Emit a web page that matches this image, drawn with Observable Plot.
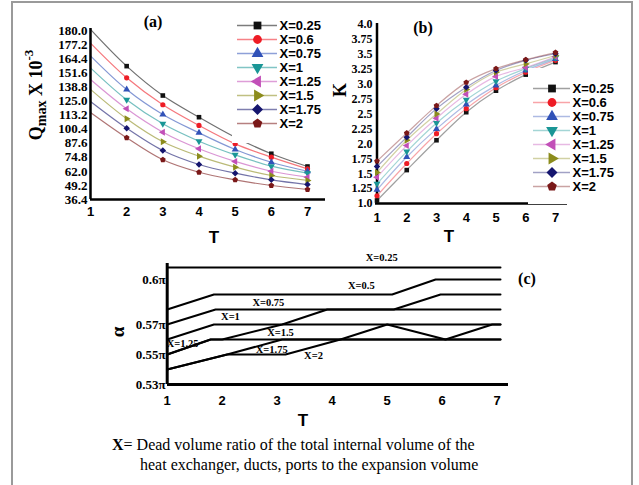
<!DOCTYPE html>
<html><head><meta charset="utf-8">
<script src="https://cdn.jsdelivr.net/npm/d3@7"></script>
<script src="https://cdn.jsdelivr.net/npm/@observablehq/plot@0.6"></script>
<style>
html,body{margin:0;padding:0;background:#fff;}
#root{position:relative;width:639px;height:485px;overflow:hidden;background:#fff;}
.pane{position:absolute;}
.border{position:absolute;left:11px;top:1px;width:618px;height:520px;border:2px solid #9a9a9a;border-bottom:none;}
.lab{position:absolute;white-space:nowrap;line-height:1;transform:translate(-50%,-50%);}
.rot{transform:translate(-50%,-50%) rotate(-90deg);}
.serifb{font-family:"Liberation Serif","Times New Roman",serif;font-weight:bold;}
.sansb{font-family:"Liberation Sans",Arial,sans-serif;font-weight:bold;}
.cap{position:absolute;white-space:nowrap;font-family:"Liberation Serif","Times New Roman",serif;font-size:16px;line-height:18px;color:#000;}
</style></head>
<body><div id="root">
<div class="border"></div>
<div id="pa" class="pane" style="left:0;top:0;width:330px;height:240px;"></div>
<div id="pb" class="pane" style="left:330px;top:0;width:309px;height:240px;"></div>
<div id="pc" class="pane" style="left:100px;top:245px;width:430px;height:180px;"></div>
<div id="la" class="pane" style="left:232px;top:5px;width:95px;height:138px;"></div>
<div id="lb" class="pane" style="left:528px;top:68px;width:100px;height:136px;"></div>

<div class="lab serifb" style="left:153px;top:22px;font-size:16px;">(a)</div>
<div class="lab serifb" style="left:423px;top:28px;font-size:16px;">(b)</div>
<div class="lab serifb" style="left:527px;top:279px;font-size:16px;">(c)</div>
<div class="lab sansb" style="left:214px;top:237px;font-size:17px;">T</div>
<div class="lab sansb" style="left:449px;top:236px;font-size:17px;">T</div>
<div class="lab sansb" style="left:303px;top:420px;font-size:17px;">T</div>
<div class="lab serifb rot" style="left:35px;top:95px;font-size:18px;">Q<sub style="font-size:14px;vertical-align:-4px;">max</sub> X 10<sup style="font-size:13px;vertical-align:9px;">-3</sup></div>
<div class="lab serifb rot" style="left:340px;top:90px;font-size:18px;">K</div>
<div class="lab serifb rot" style="left:117px;top:332px;font-size:19px;">α</div>
<div class="cap" style="left:112px;top:436px;"><b>X</b>= Dead volume ratio of the total internal volume of the</div>
<div class="cap" style="left:140px;top:456px;">heat exchanger, ducts, ports to the expansion volume</div>
</div>
<script>
// ---------------- DATA ----------------
const Tvals = [1, 2, 3, 4, 5, 6, 7];
const seriesAB = ["X=0.25", "X=0.6", "X=0.75", "X=1", "X=1.25", "X=1.5", "X=1.75", "X=2"];

// Panel (a): Qmax x 10^-3 per series (rows follow seriesAB), columns follow Tvals
const qmaxValues = [
  [191.0, 157.6, 130.9, 111.2, 93.0, 78.0, 66.4],
  [178.5, 147.0, 122.5, 103.7, 87.0, 74.9, 64.3],
  [167.0, 136.4, 113.7, 97.0, 81.9, 70.3, 62.1],
  [156.0, 127.0, 105.2, 89.4, 77.0, 66.7, 60.3],
  [145.5, 118.8, 97.6, 82.5, 71.0, 62.1, 56.7],
  [136.5, 109.8, 88.9, 75.8, 65.8, 58.2, 53.7],
  [125.5, 101.2, 80.9, 68.2, 60.3, 54.3, 50.0],
  [115.5, 92.5, 72.5, 61.2, 54.3, 49.1, 45.5]
];
const qTickVals = [36.4, 49.2, 62.0, 74.8, 87.6, 100.4, 113.2, 126.0, 138.8, 151.6, 164.4, 177.2, 190.0];
const qTickLabels = ["36.4", "49.2", "62.0", "74.8", "87.6", "100.4", "113.2", "125.0", "138.8", "151.6", "164.4", "177.2", "180.0"];

// Panel (b): K per series
const kValues = [
  [1.05, 1.56, 2.06, 2.53, 2.89, 3.16, 3.37],
  [1.13, 1.67, 2.17, 2.59, 2.94, 3.20, 3.40],
  [1.23, 1.78, 2.25, 2.66, 2.98, 3.23, 3.42],
  [1.33, 1.87, 2.35, 2.74, 3.05, 3.26, 3.44],
  [1.44, 1.97, 2.43, 2.83, 3.13, 3.28, 3.46],
  [1.52, 2.06, 2.50, 2.91, 3.20, 3.34, 3.48],
  [1.62, 2.11, 2.59, 2.95, 3.23, 3.40, 3.51],
  [1.71, 2.18, 2.64, 3.03, 3.26, 3.41, 3.53]
];
const kTickVals = [1, 1.25, 1.5, 1.75, 2, 2.25, 2.5, 2.75, 3, 3.25, 3.5, 3.75, 4];
const kTickLabels = ["1.0", "1.25", "1.5", "1.75", "2.0", "2.25", "2.5", "2.75", "3.0", "3.25", "3.5", "3.75", "4.0"];

// Panel (c): alpha (in units of pi) as [T, alpha] vertices per series
const seriesC = ["X=0.25", "X=0.5", "X=0.75", "X=1", "X=1.25", "X=1.5", "X=1.75", "X=2"];
const alphaPaths = [
  [[1, 0.608], [7.06, 0.608]],
  [[1, 0.58], [1.85, 0.59], [5.09, 0.59], [5.88, 0.60], [7.06, 0.60]],
  [[1, 0.57], [1.88, 0.58], [5.12, 0.58], [5.97, 0.59], [7.06, 0.59]],
  [[1, 0.56], [1.85, 0.57], [7.06, 0.57]],
  [[1, 0.55], [1.79, 0.56], [7.06, 0.56]],
  [[1, 0.55], [1.79, 0.56], [2.0, 0.56], [3.09, 0.57], [3.91, 0.58], [7.06, 0.58]],
  [[1, 0.54], [2.09, 0.55], [3.09, 0.56], [7.06, 0.56]],
  [[1, 0.54], [2.09, 0.55], [3.15, 0.55], [4.15, 0.56], [5.0, 0.57], [6.06, 0.56], [6.91, 0.57], [7.06, 0.57]]
];
const labelAnchorsC = [[4.9, 0.6147], [4.53, 0.596], [2.84, 0.5847], [2.15, 0.5753], [1.28, 0.5573], [3.06, 0.5647], [2.9, 0.5533], [3.66, 0.5493]];
const alphaTickVals = [0.53, 0.55, 0.57, 0.60];
const alphaTickLabels = ["0.53π", "0.55π", "0.57π", "0.6π"];

// ---------------- STYLE ----------------
const colorsX = ["#111111", "#ee1c25", "#3152b8", "#1a9696", "#c24fb8", "#8c8c1c", "#15156e", "#7a1818"];
const SERIF = "Liberation Serif, Times New Roman, serif";
const SANS = "Liberation Sans, Arial, sans-serif";
const intFmt = d => String(d);
function sym(n, rot, k) {
  return {draw(ctx, size) {
    const R = Math.sqrt(size / Math.PI) * k;
    for (let i = 0; i < n; i++) {
      const a = rot + i * 2 * Math.PI / n;
      const x = R * Math.cos(a), y = R * Math.sin(a);
      if (i === 0) ctx.moveTo(x, y); else ctx.lineTo(x, y);
    }
    ctx.closePath();
  }};
}
const symbolsAB = [
  sym(4, Math.PI / 4, 1.25), "circle", sym(3, -Math.PI / 2, 1.55), sym(3, Math.PI / 2, 1.55),
  sym(3, Math.PI, 1.55), sym(3, 0, 1.55), sym(4, -Math.PI / 2, 1.25), sym(5, -Math.PI / 2, 1.15)
];
const qTickMap = new Map(qTickVals.map((v, i) => [v, qTickLabels[i]]));
const kTickMap = new Map(kTickVals.map((v, i) => [v, kTickLabels[i]]));
const aTickMap = new Map(alphaTickVals.map((v, i) => [v, alphaTickLabels[i]]));

function rowsOf(values) {
  return seriesAB.flatMap((s, i) => Tvals.map((t, j) => ({s, i, T: t, v: values[i][j]})));
}

// ---------------- PANEL A ----------------
const rowsA = rowsOf(qmaxValues);
const plotA = Plot.plot({
  width: 330, height: 240, marginLeft: 90, marginRight: 5, marginTop: 28, marginBottom: 41,
  x: {domain: [1, 7], range: [90, 307]},
  y: {domain: [36.4, 190], range: [199, 30]},
  style: {background: "transparent", overflow: "visible"},
  marks: [
    ...seriesAB.map((s, i) => Plot.line(rowsA.filter(d => d.i === i), {x: "T", y: "v", stroke: colorsX[i], strokeOpacity: 0.6, strokeWidth: 1.2, curve: "catmull-rom"})),
    Plot.ruleX([1], {stroke: "#000", strokeWidth: 2.5}),
    Plot.ruleY([36.4], {stroke: "#000", strokeWidth: 2.5}),
    ...seriesAB.map((s, i) => Plot.dot(rowsA.filter(d => d.i === i && d.T > 1), {x: "T", y: "v", r: 2.6, symbol: symbolsAB[i], fill: colorsX[i], stroke: "none"})),
    Plot.axisY({ticks: qTickVals, tickFormat: d => qTickMap.get(d), tickSize: 0, tickPadding: 3, fontSize: 13, fontWeight: "bold", fontFamily: SERIF, fill: "#000", label: null}),
    Plot.axisX({ticks: Tvals, tickFormat: intFmt, tickSize: 0, tickPadding: 7, fontSize: 13, fontWeight: "bold", fontFamily: SANS, fill: "#000", label: null})
  ]
});
document.getElementById("pa").append(plotA);

// ---------------- PANEL B ----------------
const rowsB = rowsOf(kValues);
const plotB = Plot.plot({
  width: 309, height: 240, marginLeft: 45, marginRight: 72, marginTop: 23, marginBottom: 37,
  x: {domain: [1, 7], range: [46.5, 225]},
  y: {domain: [1, 4], range: [203, 24]},
  style: {background: "transparent", overflow: "visible"},
  marks: [
    ...seriesAB.map((s, i) => Plot.line(rowsB.filter(d => d.i === i), {x: "T", y: "v", stroke: colorsX[i], strokeOpacity: 0.4, strokeWidth: 1.2, curve: "catmull-rom"})),
    Plot.ruleX([1], {stroke: "#000", strokeWidth: 2.5}),
    Plot.ruleY([1], {stroke: "#000", strokeWidth: 2.5}),
    ...seriesAB.map((s, i) => Plot.dot(rowsB.filter(d => d.i === i), {x: "T", y: "v", r: 2.6, symbol: symbolsAB[i], fill: colorsX[i], stroke: "none"})),
    Plot.axisY({ticks: kTickVals, tickFormat: d => kTickMap.get(d), tickSize: 0, tickPadding: 3, fontSize: 12, fontWeight: "bold", fontFamily: SERIF, fill: "#000", label: null}),
    Plot.axisX({ticks: Tvals, tickFormat: intFmt, tickSize: 0, tickPadding: 9, fontSize: 13, fontWeight: "bold", fontFamily: SANS, fill: "#000", label: null})
  ]
});
document.getElementById("pb").append(plotB);

// ---------------- LEGENDS ----------------
function legendPlot(w, h, xr, yr, lineOpacity) {
  return Plot.plot({
    width: w, height: h, margin: 0,
    x: {domain: [0, 1], range: xr, axis: null},
    y: {type: "point", domain: seriesAB, range: yr, axis: null},
    style: {background: "white", overflow: "visible"},
    marks: [
      ...seriesAB.map((s, i) => Plot.ruleY([s], {y: d => d, x1: () => 0, x2: () => 1, stroke: colorsX[i], strokeOpacity: lineOpacity, strokeWidth: 1.6})),
      ...seriesAB.map((s, i) => Plot.dot([s], {y: d => d, x: () => 0.5, r: 4.4, symbol: symbolsAB[i], fill: colorsX[i], stroke: "none"})),
      Plot.text(seriesAB, {y: d => d, x: () => 1, text: d => d, dx: 2, textAnchor: "start", fontSize: 13, fontWeight: "bold", fontFamily: SANS, fill: "#000"})
    ]
  });
}
document.getElementById("la").append(legendPlot(95, 138, [5, 45], [10, 128], 0.55));
document.getElementById("lb").append(legendPlot(100, 136, [5, 42], [11, 126], 0.4));

// ---------------- PANEL C ----------------
const rowsC = seriesC.flatMap((s, i) => alphaPaths[i].map(([t, a]) => ({s, T: t, a})));
const plotC = Plot.plot({
  width: 430, height: 180, marginLeft: 67, marginRight: 22, marginTop: 18, marginBottom: 41,
  x: {domain: [1, 7], range: [66.7, 396.7]},
  y: {domain: [0.53, 0.60], range: [139, 34]},
  style: {background: "transparent", overflow: "visible"},
  marks: [
    Plot.line(rowsC, {x: "T", y: "a", z: "s", stroke: "#000", strokeWidth: 2}),
    Plot.ruleX([1], {stroke: "#000", strokeWidth: 3}),
    Plot.ruleY([0.53], {stroke: "#000", strokeWidth: 3}),
    Plot.text(seriesC, {x: (d, i) => labelAnchorsC[i][0], y: (d, i) => labelAnchorsC[i][1], text: d => d, fontSize: 10.5, fontWeight: "bold", fontFamily: SERIF, fill: "#000"}),
    Plot.axisY({ticks: alphaTickVals, tickFormat: d => aTickMap.get(d), tickSize: 0, tickPadding: 2, fontSize: 13, fontWeight: "bold", fontFamily: SERIF, fill: "#000", label: null}),
    Plot.axisX({ticks: Tvals, tickFormat: intFmt, tickSize: 0, tickPadding: 11, fontSize: 13, fontWeight: "bold", fontFamily: SANS, fill: "#000", label: null})
  ]
});
document.getElementById("pc").append(plotC);
</script>
</body></html>
